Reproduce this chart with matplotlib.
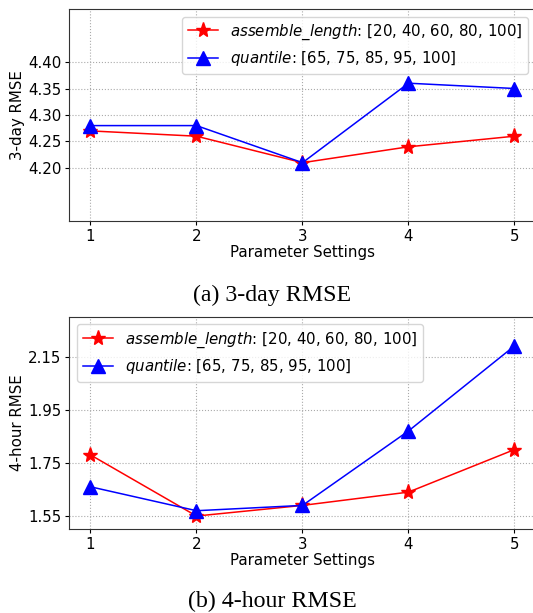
import matplotlib
matplotlib.use("Agg")
import matplotlib.pyplot as plt

settings = [1, 2, 3, 4, 5]

# 3-day RMSE
day_assemble = [4.27, 4.26, 4.21, 4.24, 4.26]
day_quantile = [4.28, 4.28, 4.21, 4.36, 4.35]

# 4-hour RMSE
hour_assemble = [1.78, 1.55, 1.59, 1.64, 1.80]
hour_quantile = [1.66, 1.57, 1.59, 1.87, 2.19]

label_assemble = r'$\it{assemble\_length}$: [20, 40, 60, 80, 100]'
label_quantile = r'$\it{quantile}$: [65, 75, 85, 95, 100]'

fs = 10.8

fig = plt.figure(figsize=(5.33, 6.13), dpi=100)
# right spine falls just outside the image, as in the original crop
ax1 = fig.add_axes([0.130, 0.6395, 0.875, 0.3458])
ax2 = fig.add_axes([0.130, 0.1365, 0.875, 0.3469])


def style(ax, yticks, ylim, ylabel, loc):
    ax.set_xlim(0.8, 5.2)
    ax.set_ylim(*ylim)
    ax.set_xticks(settings)
    ax.set_yticks(yticks)
    ax.set_yticklabels([f"{t:.2f}" for t in yticks])
    ax.tick_params(labelsize=fs, length=3, pad=2.5)
    ax.grid(True, linestyle=':', color='#aaaaaa', linewidth=0.8)
    ax.set_xlabel('Parameter Settings', fontsize=fs, labelpad=1)
    ax.set_ylabel(ylabel, fontsize=fs, labelpad=2)
    for s in ax.spines.values():
        s.set_color('#333333')
    ax.spines['right'].set_visible(False)
    ax.legend(loc=loc, fontsize=fs, handlelength=2.0, borderaxespad=0.5,
              framealpha=0.8)


ax1.plot(settings, day_assemble, color='red', marker='*', markersize=11,
         linewidth=1.1, label=label_assemble)
ax1.plot(settings, day_quantile, color='blue', marker='^', markersize=10,
         linewidth=1.1, label=label_quantile)
style(ax1, [4.20, 4.25, 4.30, 4.35, 4.40], (4.10, 4.50), '3-day RMSE', 'upper right')

ax2.plot(settings, hour_assemble, color='red', marker='*', markersize=11,
         linewidth=1.1, label=label_assemble)
ax2.plot(settings, hour_quantile, color='blue', marker='^', markersize=10,
         linewidth=1.1, label=label_quantile)
style(ax2, [1.55, 1.75, 1.95, 2.15], (1.50, 2.30), '4-hour RMSE', 'upper left')

fig.text(272 / 533, 1 - 295 / 613, '(a) 3-day RMSE', ha='center', va='center',
         family='Liberation Serif', fontsize=17.2)
fig.text(272 / 533, 1 - 601 / 613, '(b) 4-hour RMSE', ha='center', va='center',
         family='Liberation Serif', fontsize=17.2)

fig.savefig('out.png', dpi=100)
